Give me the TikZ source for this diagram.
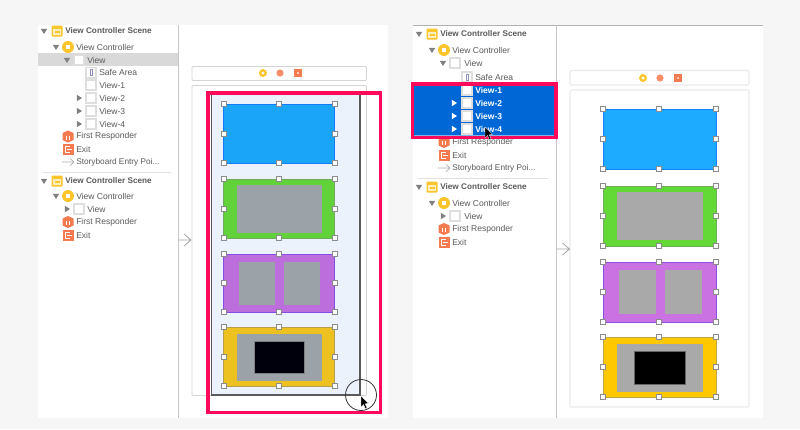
\documentclass[tikz,border=0pt]{standalone}
\usepackage{fontspec}
\setmainfont{Liberation Sans}
\definecolor{pagebg}{HTML}{F7F6F7}
\definecolor{rowgrey}{HTML}{D9D9D9}
\definecolor{pinkline}{HTML}{FF0A5A}
\definecolor{seltint}{HTML}{EBF2FC}
\definecolor{selblue}{HTML}{0068D6}
\definecolor{txtgrey}{HTML}{5A5A5A}
\definecolor{frameg}{HTML}{D4D4D4}
\definecolor{framel}{HTML}{EAEAEA}
\definecolor{orng}{HTML}{F47B50}
\definecolor{gold}{HTML}{FBC52B}
\definecolor{skyL}{HTML}{1BA5F8}
\definecolor{grnL}{HTML}{62D23A}
\definecolor{purL}{HTML}{BC6FDC}
\definecolor{yelL}{HTML}{EDC120}
\definecolor{gryL}{HTML}{9CA3A8}
\definecolor{skyR}{HTML}{1CABFF}
\definecolor{grnR}{HTML}{62D936}
\definecolor{purR}{HTML}{CA72E2}
\definecolor{yelR}{HTML}{FFC800}
\definecolor{gryR}{HTML}{A9A9A9}
\tikzset{
  x=0.75pt,y=-0.75pt,
  rowtext/.style={anchor=west,inner sep=0pt,text=txtgrey,font=\fontsize{6.4}{7}\selectfont},
  longtext/.style={rowtext,font=\fontsize{6.2}{7}\selectfont},
  scenetext/.style={rowtext,font=\fontsize{6.15}{7}\selectfont\bfseries},
  seltext/.style={rowtext,text=white,font=\fontsize{6.4}{7}\selectfont\bfseries},
  handle/.style={draw=black!45,fill=white,line width=0.5pt,minimum size=4pt,inner sep=0pt},
  pinkbox/.style={draw=pinkline,line width=2.4pt},
  frame/.style={draw=frameg,line width=0.7pt,rounded corners=0.8pt,fill=white},
  framer/.style={draw=framel,line width=0.8pt,rounded corners=0.8pt,fill=white},
  chev/.style={draw=black!35,line width=0.6pt},
  pics/tridown/.style={code={\fill[#1] (-3.2,-2.2) -- (3.2,-2.2) -- (0,3) -- cycle;}},
  pics/triright/.style={code={\fill[#1] (-2.2,-3.2) -- (-2.2,3.2) -- (3,0) -- cycle;}},
  pics/scenicon/.style={code={
    \fill[fill=gold,rounded corners=0.6pt] (-5.5,-5.5) rectangle (5.5,5.5);
    \fill[white!70!gold] (-4,-2.5) rectangle (4,4);
    \fill[gold] (-2.5,0) rectangle (2.5,1.5);}},
  pics/vcicon/.style={code={
    \fill[gold] (0,0) circle [radius=6];
    \fill[white] (-2.3,-2.3) rectangle (2.3,2.3);}},
  pics/boxicon/.style={code={
    \fill[black!13] (-6,-6) rectangle (6,6);
    \fill[white] (-4.2,-4.2) rectangle (4.2,4.2);}},
  pics/safeicon/.style={code={
    \fill[black!13] (-6,-6) rectangle (6,6);
    \fill[white] (-4.2,-4.2) rectangle (4.2,4.2);
    \draw[blue!25!gray!70,line width=0.4pt] (-1.2,-3) rectangle (1.2,3);}},
  pics/fricon/.style={code={
    \fill[orng] (0,-6) -- (5.5,-3.5) -- (5.5,3.5) -- (0,6) -- (-5.5,3.5) -- (-5.5,-3.5) -- cycle;
    \draw[white,line width=0.4pt] (-2,-1) -- (-2,3) (1.5,-1) -- (1.5,3);}},
  pics/exicon/.style={code={
    \fill[orng] (-5.5,-5.5) rectangle (5.5,5.5);
    \draw[white,line width=0.6pt] (2,-3) -- (-3,-3) -- (-3,3) -- (2,3);
    \draw[white,line width=0.6pt] (-1,0) -- (4,0);}},
  pics/entryarrow/.style={code={
    \draw[black!30,line width=0.5pt] (-6,0) -- (6,0) (2,-3.5) -- (6,0) -- (2,3.5);}},
  pics/baricons/.style={code={
    \fill[gold] (-17,0) circle [radius=4];
    \fill[white] (-17,0) circle [radius=1.6];
    \fill[orng!85] (0,0) circle [radius=3.6];
    \fill[orng] (14,-3.6) rectangle (21.5,3.6);
    \fill[white!60!orng] (16.5,-1.3) rectangle (19,1.3);}},
}
\newcommand{\vrect}[6]{\fill[#1,draw=#6,line width=0.5pt] (#2,#3) rectangle (#4,#5);}
\newcommand{\hset}[5]{%
  \foreach \hx in {#1,#2,#3}\foreach \hy in {#4,#5}{\node[handle] at (\hx,\hy) {};}%
  \node[handle] at (#1,{(#4+#5)/2}) {};\node[handle] at (#3,{(#4+#5)/2}) {};}
\begin{document}
\begin{tikzpicture}
\useasboundingbox (0,0) rectangle (800,429);
\fill[pagebg] (0,0) rectangle (800,429);
% ===== LEFT SCREENSHOT =====
\fill[white] (38,25) rectangle (388,418);
\draw[black!22,line width=0.7pt] (178.5,25) -- (178.5,418);
\fill[rowgrey] (38,53) rectangle (178,66);
\pic at (44,31) {tridown=black!50};
\pic at (57,31) {scenicon};
\node[scenetext] (lscene) at (65,31) {View Controller Scene};
\pic at (56,47) {tridown=black!50};
\pic at (68,47) {vcicon};
\node[rowtext] (lvc) at (76,47) {View Controller};
\pic at (67,60) {tridown=black!50};
\pic at (79,60) {boxicon};
\node[rowtext] (lview) at (87,60) {View};
\pic at (91,72.5) {safeicon};
\node[rowtext] (lsafe) at (99,72.5) {Safe Area};
\foreach \yy/\nm in {85/View-1,98/View-2,111/View-3,124/View-4}{
  \pic at (91,\yy) {boxicon};
  \node[rowtext] (l\nm) at (99,\yy) {\nm};}
\foreach \yy in {98,111,124}{\pic at (79,\yy) {triright=black!50};}
\pic at (68,136.5) {fricon};
\node[rowtext] (lfr) at (76,136.5) {First Responder};
\pic at (68,149) {exicon};
\node[rowtext] (lex) at (76,149) {Exit};
\pic at (68,162) {entryarrow};
\node[longtext] (lsb) at (76,162) {Storyboard Entry Poi...};
\draw[black!12,line width=0.7pt] (43,172) -- (171,172);
\pic at (44,181) {tridown=black!50};
\pic at (57,181) {scenicon};
\node[scenetext] (lscene2) at (65,181) {View Controller Scene};
\pic at (56,196) {tridown=black!50};
\pic at (68,196) {vcicon};
\node[rowtext] (lvc2) at (76,196) {View Controller};
\pic at (67,209) {triright=black!50};
\pic at (79,209) {boxicon};
\node[rowtext] (lview2) at (87,209) {View};
\pic at (68,222) {fricon};
\node[rowtext] (lfr2) at (76,222) {First Responder};
\pic at (68,235) {exicon};
\node[rowtext] (lex2) at (76,235) {Exit};
% canvas
\draw[frame] (192,66.5) rectangle (366.5,80.5);
\pic at (280,73) {baricons};
\draw[frame] (192,85.5) rectangle (366.5,395.5);
\draw[chev] (178.5,240) -- (191,240) (184,234) -- (191,240) -- (184,246);
\fill[seltint,draw=black!65,line width=0.8pt] (211.5,94.5) rectangle (360,395);
\vrect{skyL}{223.5}{104}{334.5}{163}{blue!25!skyL}
\vrect{grnL}{223.5}{179}{334.5}{238}{gray!50!grnL}
\vrect{gryL}{237}{185}{321}{232}{gryL}
\vrect{purL}{223.5}{254}{334.5}{312}{purL!70!blue}
\vrect{gryL}{239}{262}{274}{304}{gryL}
\vrect{gryL}{284}{262}{319}{304}{gryL}
\vrect{yelL}{223.5}{327}{334.5}{386}{gray!50!yelL}
\vrect{gryL}{237}{334}{321}{380}{gryL}
\vrect{black!95!blue}{254}{341}{304}{373}{black!50}
\hset{223.5}{278.5}{334.5}{104}{163}
\hset{223.5}{278.5}{334.5}{179}{238}
\hset{223.5}{278.5}{334.5}{254}{312}
\hset{223.5}{278.5}{334.5}{327}{386}
\draw[pinkbox] (208,93) rectangle (380.5,412.5);
\draw[black!80,line width=0.6pt] (361,395) circle [radius=15.5];
\fill[black,draw=white,line width=0.25pt] (361,396) -- (361,407) -- (363.5,404.5) -- (365.5,409) -- (367,408) -- (365.2,403.8) -- (368.5,403.5) -- cycle;
% ===== RIGHT SCREENSHOT =====
\fill[white] (413,25) rectangle (763,418);
\draw[black!30,line width=0.7pt] (413,25) -- (763,25);
\draw[black!22,line width=0.7pt] (556.5,25) -- (556.5,418);
\fill[selblue] (413,84) rectangle (556,136);
\draw[white!50!selblue,line width=0.4pt] (413,135) -- (556,135);
\pic at (419,34) {tridown=black!50};
\pic at (432,34) {scenicon};
\node[scenetext] (rscene) at (440,34) {View Controller Scene};
\pic at (432,50) {tridown=black!50};
\pic at (444,50) {vcicon};
\node[rowtext] (rvc) at (452,50) {View Controller};
\pic at (443,63) {tridown=black!50};
\pic at (455,63) {boxicon};
\node[rowtext] (rview) at (464,63) {View};
\pic at (467,77) {safeicon};
\node[rowtext] (rsafe) at (475,77) {Safe Area};
\foreach \yy/\nm in {90/View-1,103/View-2,116/View-3,129/View-4}{
  \pic at (467,\yy) {boxicon};
  \node[seltext] (r\nm) at (475,\yy) {\nm};}
\foreach \yy in {103,116,129}{\pic at (454,\yy) {triright=white};}
\pic at (444,142) {fricon};
\node[rowtext] (rfr) at (452,142) {First Responder};
\pic at (444,155) {exicon};
\node[rowtext] (rex) at (452,155) {Exit};
\pic at (444,168) {entryarrow};
\node[longtext] (rsb) at (452,168) {Storyboard Entry Poi...};
\draw[black!12,line width=0.7pt] (418,178) -- (548,178);
\pic at (419,187) {tridown=black!50};
\pic at (432,187) {scenicon};
\node[scenetext] (rscene2) at (440,187) {View Controller Scene};
\pic at (432,203) {tridown=black!50};
\pic at (444,203) {vcicon};
\node[rowtext] (rvc2) at (452,203) {View Controller};
\pic at (443,216) {triright=black!50};
\pic at (455,216) {boxicon};
\node[rowtext] (rview2) at (464,216) {View};
\pic at (444,229) {fricon};
\node[rowtext] (rfr2) at (452,229) {First Responder};
\pic at (444,242) {exicon};
\node[rowtext] (rex2) at (452,242) {Exit};
\draw[pinkbox] (412.5,84) rectangle (556,137.5);
\fill[black,draw=white,line width=0.25pt] (485,127) -- (485,138) -- (487.5,135.5) -- (489.5,140) -- (491,139) -- (489.2,134.8) -- (492.5,134.5) -- cycle;
% canvas
\draw[framer] (570,70.5) rectangle (749,85);
\pic at (660,78) {baricons};
\draw[framer] (570,90) rectangle (749,407);
\draw[chev] (556.5,249) -- (569.5,249) (562.5,243) -- (569.5,249) -- (562.5,255);
\vrect{skyR}{603}{109}{716}{169}{blue!25!skyR}
\vrect{grnR}{603}{186}{716}{246}{gray!50!grnR}
\vrect{gryR}{617}{192}{702}{239.5}{gryR}
\vrect{purR}{603}{262}{716}{322}{purR!70!blue}
\vrect{gryR}{619}{270}{655}{313}{gryR}
\vrect{gryR}{665}{270}{701}{313}{gryR}
\vrect{yelR}{603}{337}{716}{397}{gray!50!yelR}
\vrect{gryR}{617}{344}{702}{391}{gryR}
\vrect{black}{634}{351}{685}{384}{black!60}
\hset{603}{659}{716}{109}{169}
\hset{603}{659}{716}{186}{246}
\hset{603}{659}{716}{262}{322}
\hset{603}{659}{716}{337}{397}
\end{tikzpicture}
\end{document}
